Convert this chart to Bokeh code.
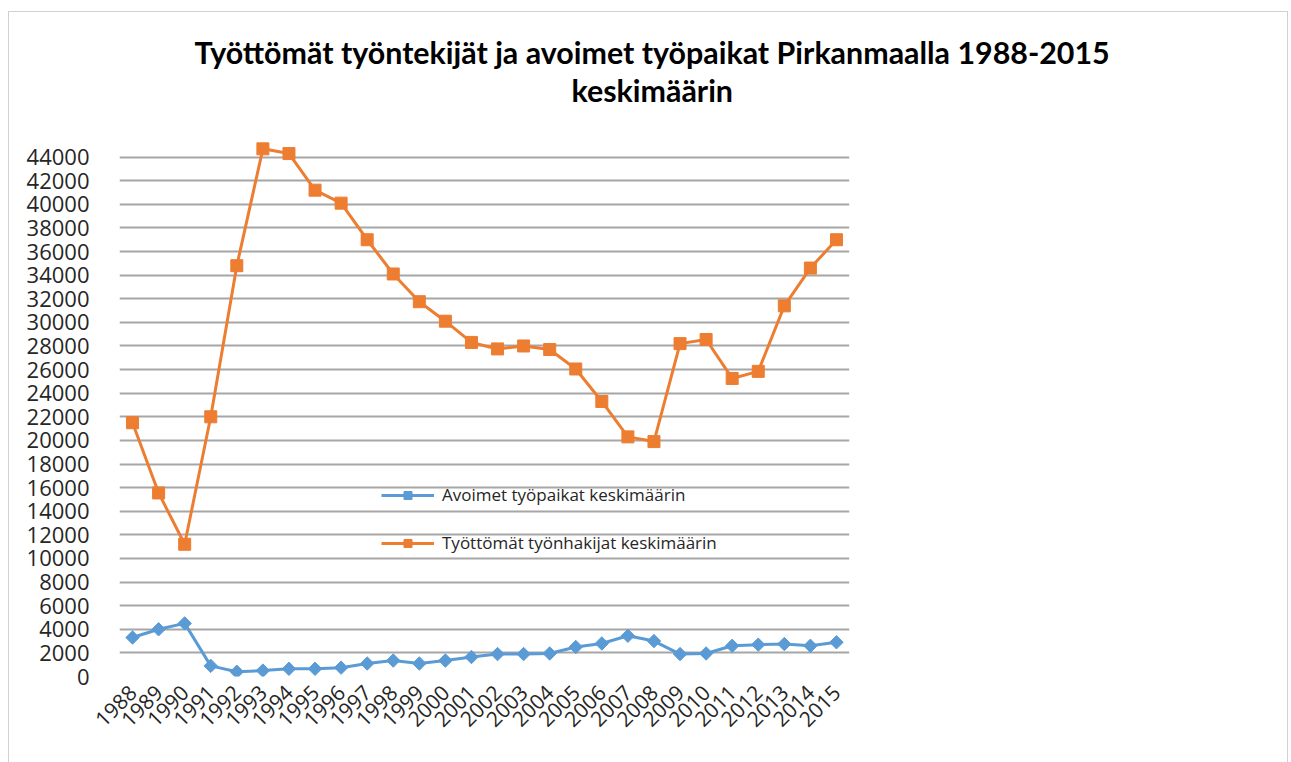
import numpy as np
from bokeh.plotting import figure
from bokeh.models import (ColumnDataSource, FixedTicker, Legend, LegendItem, Title,
                          FactorRange, Range1d)
from bokeh.embed import file_html
from bokeh.resources import INLINE

years = [str(y) for y in range(1988, 2016)]
avoimet = [3300, 4000, 4500, 900, 400, 500, 650, 650, 750, 1100, 1350, 1100, 1350, 1650,
           1900, 1900, 1950, 2500, 2800, 3450, 3000, 1900, 1950, 2600, 2700, 2750, 2600, 2900]
tyottomat = [21500, 15550, 11200, 22000, 34800, 44700, 44300, 41200, 40100, 37000, 34100, 31750,
             30100, 28300, 27750, 28000, 27700, 26050, 23300, 20300, 19900, 28200, 28550, 25250,
             25850, 31400, 34600, 37000]
y_ticks = list(range(0, 44001, 2000))

title_line1 = "Työttömät työntekijät ja avoimet työpaikat Pirkanmaalla 1988-2015"
title_line2 = "keskimäärin"
label_avoimet = "Avoimet työpaikat keskimäärin"
label_tyottomat = "Työttömät työnhakijat keskimäärin"

BLUE = "#5B9BD5"
ORANGE = "#ED7D31"

src = ColumnDataSource(dict(year=years, a=avoimet, t=tyottomat))

p = figure(width=1280, height=751, x_range=FactorRange(factors=years),
           y_range=Range1d(0, 46000), output_backend="svg", toolbar_location=None,
           min_border_left=110, min_border_right=440, min_border_top=121,
           min_border_bottom=87)
p.styles = {"margin-left": "8px", "margin-top": "11px",
            "border-top": "1px solid #d0d0d0", "border-left": "1px solid #d0d0d0",
            "border-right": "1px solid #d0d0d0", "box-sizing": "border-box"}
p.outline_line_color = None
p.background_fill_color = "white"
p.border_fill_color = "white"

# axes
p.yaxis.ticker = FixedTicker(ticks=y_ticks)
p.yaxis.axis_line_color = None
p.yaxis.major_tick_line_color = None
p.yaxis.minor_tick_line_color = None
p.yaxis.major_label_text_font = "Open Sans"
p.yaxis.major_label_text_font_size = "22px"
p.yaxis.major_label_text_color = "#262626"
p.yaxis.major_label_standoff = 24

p.xaxis.axis_line_color = None
p.xaxis.major_tick_line_color = None
p.xaxis.major_label_orientation = np.pi / 4
p.xaxis.major_label_text_font = "Open Sans"
p.xaxis.major_label_text_font_size = "21px"
p.xaxis.major_label_text_color = "#262626"
p.xaxis.major_label_standoff = 6

p.xgrid.grid_line_color = None
p.ygrid.grid_line_color = "#a6a6a6"
p.ygrid.grid_line_width = 2

# series
la = p.line("year", "a", source=src, line_color=BLUE, line_width=3)
ma = p.scatter("year", "a", source=src, marker="square", angle=np.pi / 4, size=9.5,
               fill_color=BLUE, line_color=BLUE)
lt = p.line("year", "t", source=src, line_color=ORANGE, line_width=3)
mt = p.scatter("year", "t", source=src, marker="square", size=12,
               fill_color=ORANGE, line_color=ORANGE)

legend = Legend(items=[LegendItem(label=label_avoimet, renderers=[la, ma]),
                       LegendItem(label=label_tyottomat, renderers=[lt, mt])],
                location=(262, 122), orientation="vertical",
                glyph_width=53, glyph_height=20, label_height=20, spacing=25,
                label_standoff=8, padding=0, margin=0,
                label_text_font="Open Sans", label_text_font_size="17px",
                label_text_color="#262626",
                background_fill_alpha=0, border_line_alpha=0)
p.add_layout(legend, "center")

# title: spacer, then two lines (added nearest-first)
p.add_layout(Title(text=" ", text_font_size="1px", standoff=23), "above")
p.add_layout(Title(text=title_line2, align="left", offset=452, standoff=0,
                   text_font="Lato", text_font_style="bold", text_font_size="30.4px",
                   text_color="black"), "above")
p.add_layout(Title(text=title_line1, align="left", offset=75, standoff=0,
                   text_font="Lato", text_font_style="bold", text_font_size="30.4px",
                   text_color="black"), "above")

open("out.html", "w").write(file_html(p, INLINE))
